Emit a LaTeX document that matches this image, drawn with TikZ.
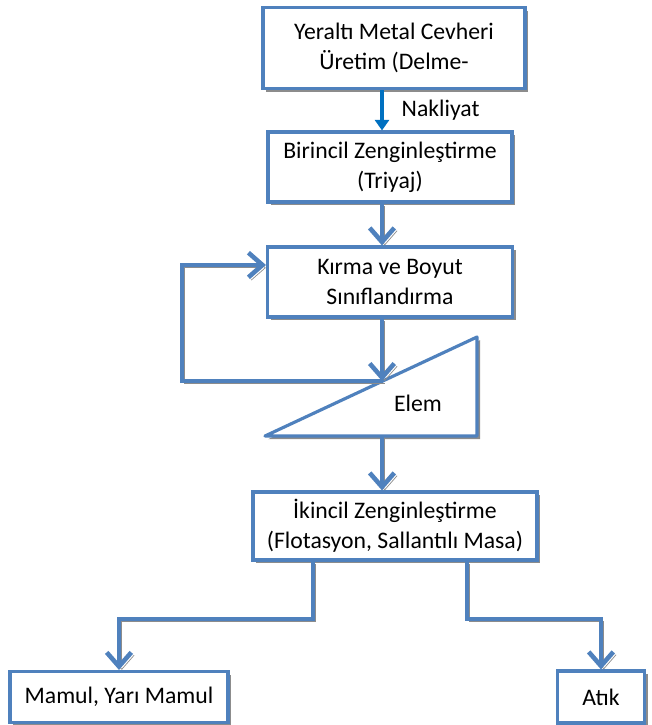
\documentclass[tikz,border=0pt]{standalone}
\usepackage{fontspec}
\setmainfont{Carlito}
\usetikzlibrary{arrows.meta,shadows}
\definecolor{boxblue}{RGB}{79,129,189}
\definecolor{arrblue}{RGB}{0,112,192}

\tikzstyle{box} = [draw=boxblue, line width=1.8pt, fill=white, align=center, inner sep=0pt,
  font=\fontsize{13.5}{17}\selectfont,
  drop shadow={shadow xshift=1.8pt, shadow yshift=-1.8pt, fill=gray!90, opacity=1}]
\tikzstyle{flow} = [draw=boxblue, line width=2.6pt, -{Straight Barb[length=8pt,width=14pt]},
  preaction={draw=gray!90, transform canvas={shift={(1.6pt,-1.6pt)}}}]
\tikzstyle{carry} = [draw=arrblue, line width=1.8pt, -{Triangle[length=6pt,width=8pt]}]

\begin{document}
\begin{tikzpicture}[x=0.02cm, y=-0.02cm]
	\useasboundingbox (0,0) rectangle (652,725);
	\node[box, minimum width=5.24cm, minimum height=1.62cm] (n1) at (394,48) {Yeraltı Metal Cevheri\\Üretim (Delme-};
	\node[box, minimum width=4.88cm, minimum height=1.4cm] (n2) at (390,167) {Birincil Zenginleştirme\\(Triyaj)};
	\node[box, minimum width=4.9cm, minimum height=1.4cm] (n3) at (390,282) {Kırma ve Boyut\\Sınıflandırma};
	\node[box, minimum width=5.68cm, minimum height=1.36cm] (n4) at (395,526) {İkincil Zenginleştirme\\(Flotasyon, Sallantılı Masa)};
	\node[box, minimum width=4.36cm, minimum height=1.02cm] (n5) at (119,697) {Mamul, Yarı Mamul};
	\node[box, minimum width=1.74cm, minimum height=1.04cm] (n6) at (601,697) {Atık};
	% elek (triangle)
	\coordinate (t1) at (477,337);
	\coordinate (t2) at (265,436);
	\coordinate (t3) at (477,436);
	\fill[gray!90] ([shift={(1.8pt,-1.8pt)}]t1) -- ([shift={(1.8pt,-1.8pt)}]t2) -- ([shift={(1.8pt,-1.8pt)}]t3) -- cycle;
	\draw[boxblue, line width=1.8pt, fill=white, line join=round] (t1) -- (t2) -- (t3) -- cycle;
	\node[font=\fontsize{13.5}{17}\selectfont] (n7) at (418,403) {Elem};
	\coordinate (ax) at (382,0);
	\coordinate (h) at (382,381);
	\coordinate (tb) at (382,436);
	\coordinate (l1) at (182,381);
	\coordinate (l2) at (182,265);
	\coordinate (a) at (313,619);
	\coordinate (b) at (467,619);
	\draw[carry] (n1.south -| ax) -- node[right, xshift=7pt, font=\fontsize{13.5}{17}\selectfont]{Nakliyat} (n2.north -| ax);
	\draw[flow] (n2.south -| ax) -- (n3.north -| ax);
	\draw[flow] (n3.south -| ax) -- (h);
	\draw[flow] (h) -- (l1) -- (l2) -- (n3.west |- l2);
	\draw[flow] (tb) -- (n4.north -| ax);
	\draw[flow] (n4.south -| a) -- (a) -| (n5.north);
	\draw[flow] (n4.south -| b) -- (b) -| (n6.north);
\end{tikzpicture}
\end{document}
